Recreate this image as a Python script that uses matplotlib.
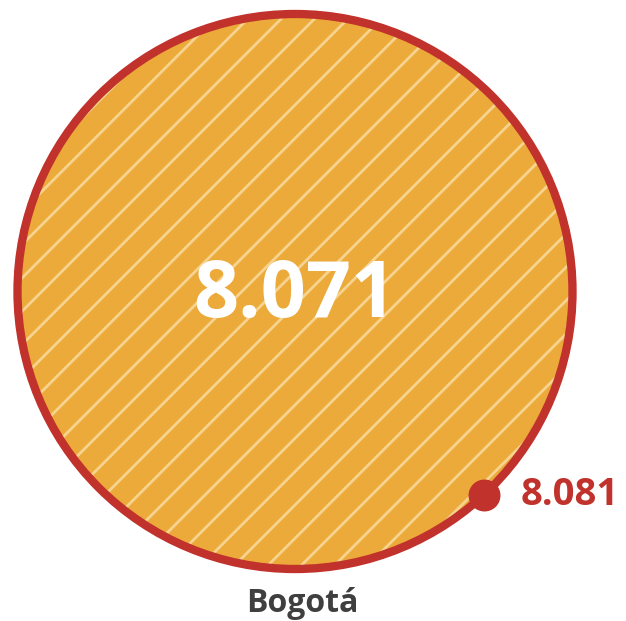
import numpy as np
import matplotlib
matplotlib.use("Agg")
import matplotlib.pyplot as plt
from matplotlib.patches import Circle

# Data
city = "Bogotá"
circle_value = 8071
dot_value = 8081
circle_label = "8.071"
dot_label = "8.081"

ORANGE = "#ECAA3A"
PALE = "#F6D38E"
RED = "#C0322B"
GRAY = "#3F3F3F"

W, H, DPI = 626, 621, 100
plt.rcParams['font.family'] = ['Open Sans', 'DejaVu Sans']
plt.rcParams['hatch.linewidth'] = 2.0

fig = plt.figure(figsize=(W / DPI, H / DPI), dpi=DPI)
ax = fig.add_axes([0, 0, 1, 1])
ax.set_axis_off()

# scale: pixels per sqrt-unit
cx_px, cy_px, r_px = 295, 291.5, 277.5
k = r_px / np.sqrt(circle_value)
ax.set_xlim(-cx_px / k, (W - cx_px) / k)
ax.set_ylim(-(H - cy_px) / k, cy_px / k)
ax.set_aspect('equal')

r = np.sqrt(circle_value)
fill = Circle((0, 0), r, facecolor=ORANGE, edgecolor=PALE, hatch='/', linewidth=0)
ax.add_patch(fill)
outline = Circle((0, 0), r, facecolor='none', edgecolor=RED, linewidth=6)
ax.add_patch(outline)

ax.text(0, -5 / k, circle_label, color='white', fontsize=57, fontweight='bold',
        ha='center', va='center')

ang = np.deg2rad(-47.2)
rd = np.sqrt(dot_value)
dx, dy = rd * np.cos(ang), rd * np.sin(ang)
ax.plot([dx], [dy], 'o', color=RED, markersize=22, zorder=5)
ax.annotate(dot_label, (dx, dy), xytext=(26.5, 0), textcoords='offset points',
            color=RED, fontsize=27.5, fontweight='bold', ha='left', va='center')

ax.text(302 / W, 1 - 604 / H, city, transform=ax.transAxes, color=GRAY,
        fontsize=23, fontweight='bold', ha='center', va='center')

fig.savefig('out.png', dpi=DPI)
